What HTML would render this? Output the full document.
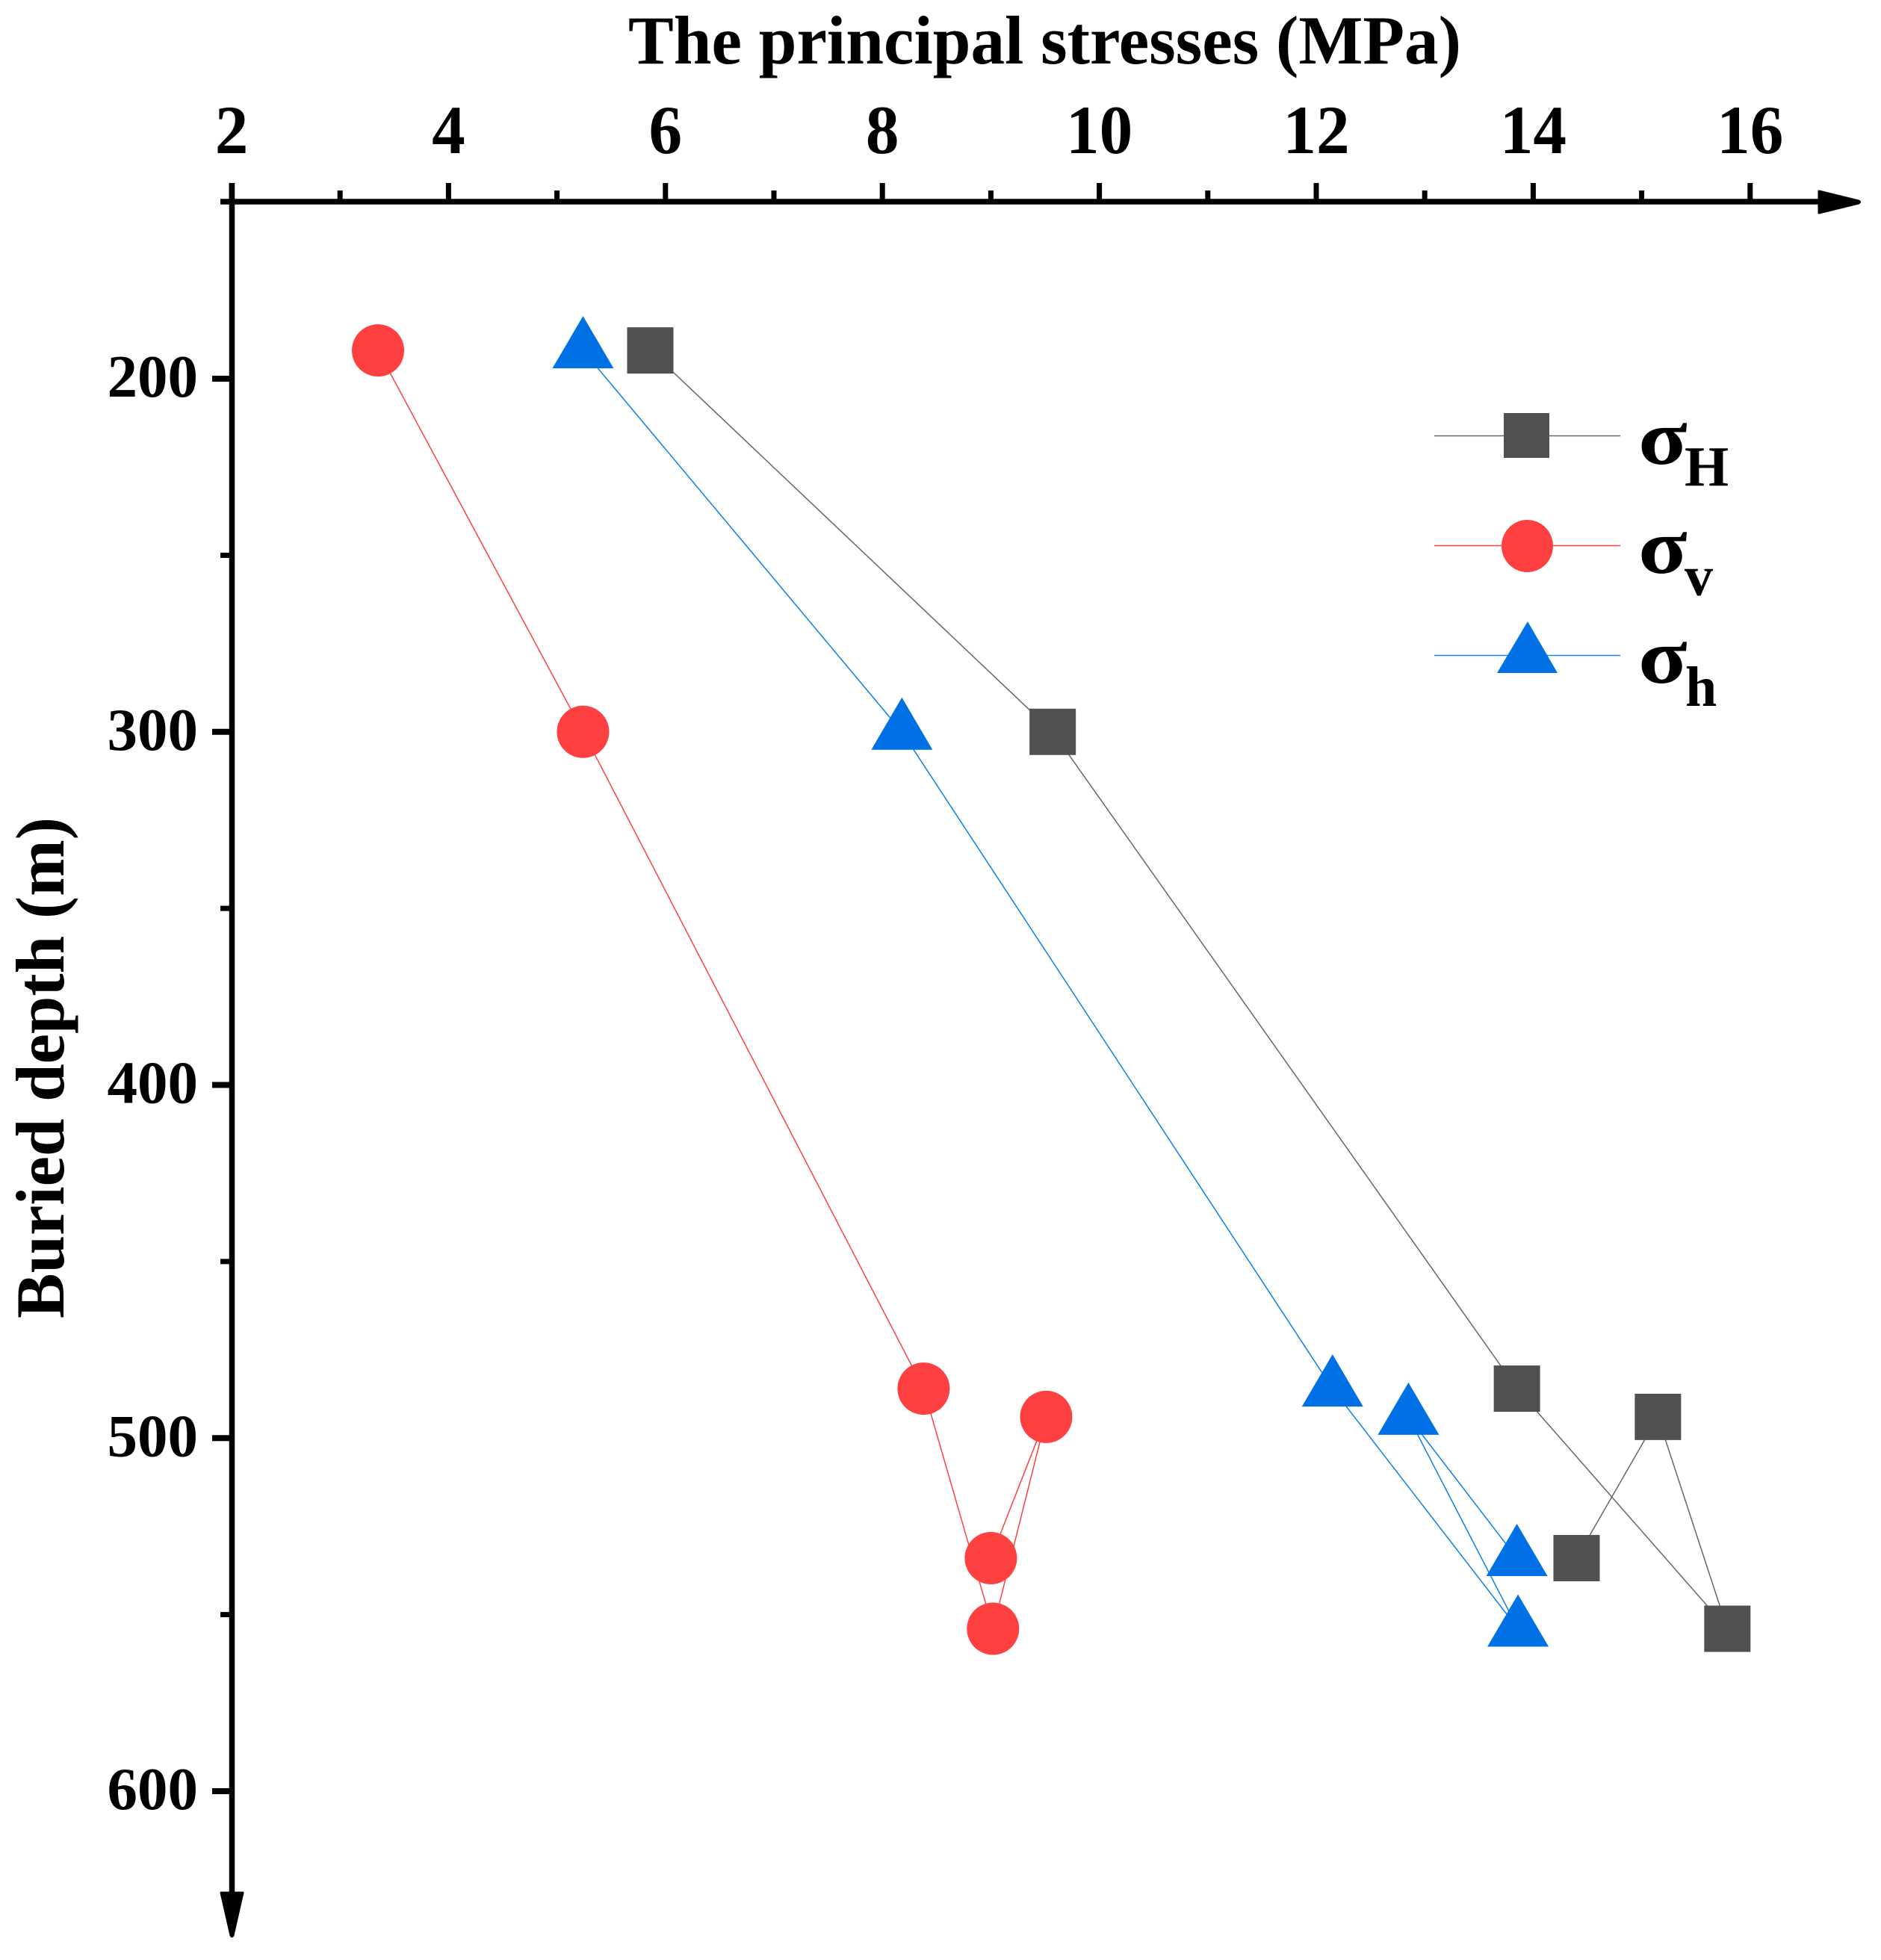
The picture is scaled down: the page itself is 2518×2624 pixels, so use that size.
<!DOCTYPE html>
<html lang="en">
<head>
<meta charset="utf-8">
<title>Principal stresses vs buried depth</title>
<style>
html,body{margin:0;padding:0;background:#fff;}
svg{display:block;}
text{font-family:"Liberation Serif",serif;font-weight:bold;fill:#000;}
</style>
</head>
<body>
<svg id="chart" xmlns="http://www.w3.org/2000/svg" width="2518" height="2624" viewBox="0 0 2518 2624">
  <rect x="0" y="0" width="2518" height="2624" fill="#fff"/>
  <g id="series-layer"></g>
  <g id="axis-layer">
    <line x1="295" y1="270" x2="2440" y2="270" stroke="#000" stroke-width="7.5"/>
    <line x1="310.5" y1="245" x2="310.5" y2="2540" stroke="#000" stroke-width="7.5"/>
    <path d="M2435 256 L2488 269 Q2491 270.500 2488 272 L2435 285 Z" fill="#000" stroke="#000" stroke-width="3" stroke-linejoin="round"/>
    <path d="M296 2534 L325 2534 L312 2591 Q310.500 2594 309 2591 Z" fill="#000" stroke="#000" stroke-width="3" stroke-linejoin="round"/>
  </g>
  <text x="841" y="85" font-size="92" textLength="1115" lengthAdjust="spacingAndGlyphs">The principal stresses (MPa)</text>
  <text transform="translate(85,1765) rotate(-90)" x="0" y="0" font-size="92" textLength="671" lengthAdjust="spacingAndGlyphs">Buried depth (m)</text>
  <g id="legend">
    <g>
      <line x1="1920" y1="583.500" x2="2169" y2="583.500" stroke="#666" stroke-width="1.500"/>
      <rect x="2013" y="553" width="61" height="60" fill="#505050"/>
      <text transform="translate(2193,621) scale(1.15,1)" font-size="105">σ</text>
      <text x="2255" y="650" font-size="76">H</text>
    </g>
    <g>
      <line x1="1920" y1="730.500" x2="2169" y2="730.500" stroke="#ff4040" stroke-width="1.500"/>
      <ellipse cx="2044.500" cy="731" rx="34.500" ry="35" fill="#ff4040"/>
      <text transform="translate(2193,767) scale(1.15,1)" font-size="105">σ</text>
      <text x="2255" y="797" font-size="76">v</text>
    </g>
    <g>
      <line x1="1920" y1="877.500" x2="2169" y2="877.500" stroke="#1a86ea" stroke-width="1.500"/>
      <polygon points="2045,832 2085,901 2004,901" fill="#0070e5"/>
      <text transform="translate(2193,914) scale(1.15,1)" font-size="105">σ</text>
      <text x="2256" y="945" font-size="76">h</text>
    </g>
  </g>
</svg>
<script>
const xTickLabels = [2, 4, 6, 8, 10, 12, 14, 16];
const xMinorTicks = [3, 5, 7, 9, 11, 13, 15];
const yTickLabels = [200, 300, 400, 500, 600];
const yMinorTicks = [250, 350, 450, 550];
const depths = [192, 300, 486, 554, 494, 534];
const sigmaHMax = [5.86, 9.57, 13.85, 15.79, 15.15, 14.40];
const sigmaV = [3.35, 5.24, 8.38, 9.02, 9.51, 9.00];
const sigmaHMin = [5.24, 8.18, 12.15, 13.86, 12.85, 13.85];

const NS = 'http://www.w3.org/2000/svg';
function xScale(v) { return 310 + (v - 2) * 145.2; }
function yScale(v) { return 507 + (v - 200) * 4.7275; }
function mk(tag, parent, attrs) {
  const el = document.createElementNS(NS, tag);
  for (const k in attrs) el.setAttribute(k, attrs[k]);
  parent.appendChild(el);
  return el;
}
const axes = document.getElementById('axis-layer');
const chart = document.getElementById('chart');
const seriesLayer = document.getElementById('series-layer');

xTickLabels.forEach(function (v) {
  const t = mk('line', axes, {x1: xScale(v), y1: 245, x2: xScale(v), y2: 270, stroke: '#000', 'stroke-width': 7});
  
  
  const l = mk('text', axes, {transform: 'translate(' + xScale(v) + ',205) scale(0.97,1)', 'text-anchor': 'middle', 'font-size': 92});
  l.textContent = String(v);
  
  
});
xMinorTicks.forEach(function (v) {
  const t = mk('line', axes, {x1: xScale(v), y1: 255, x2: xScale(v), y2: 270, stroke: '#000', 'stroke-width': 7});
  
  
});
yTickLabels.forEach(function (v) {
  const t = mk('line', axes, {x1: 284, y1: yScale(v), x2: 310, y2: yScale(v), stroke: '#000', 'stroke-width': 8});
  
  
  const l = mk('text', axes, {x: 265, y: yScale(v) + 24, 'text-anchor': 'end', 'font-size': 81});
  l.textContent = String(v);
  
  
});
yMinorTicks.forEach(function (v) {
  const t = mk('line', axes, {x1: 295, y1: yScale(v), x2: 310, y2: yScale(v), stroke: '#000', 'stroke-width': 7});
  
  
});

function linePoints(values) {
  return values.map(function (v, i) { return xScale(v) + ',' + yScale(depths[i]); }).join(' ');
}
const lineHMax = mk('polyline', seriesLayer, {points: linePoints(sigmaHMax), fill: 'none', stroke: '#666', 'stroke-width': 1.5});


const lineV = mk('polyline', seriesLayer, {points: linePoints(sigmaV), fill: 'none', stroke: '#ff4040', 'stroke-width': 1.5});


const lineHMin = mk('polyline', seriesLayer, {points: linePoints(sigmaHMin), fill: 'none', stroke: '#0a80ea', 'stroke-width': 1.5});



sigmaHMax.forEach(function (v, i) {
  const m = mk('rect', seriesLayer, {x: xScale(v) - 31, y: yScale(depths[i]) - 31, width: 62, height: 62, fill: '#505050'});
  
  
});
sigmaV.forEach(function (v, i) {
  const m = mk('circle', seriesLayer, {cx: xScale(v), cy: yScale(depths[i]), r: 35, fill: '#ff4040'});
  
  
});
sigmaHMin.forEach(function (v, i) {
  const cx = xScale(v);
  const cy = yScale(depths[i]);
  const m = mk('polygon', seriesLayer, {points: cx + ',' + (cy - 46) + ' ' + (cx + 41) + ',' + (cy + 24) + ' ' + (cx - 41) + ',' + (cy + 24), fill: '#0070e5'});
  
  
});
</script>
</body>
</html>
